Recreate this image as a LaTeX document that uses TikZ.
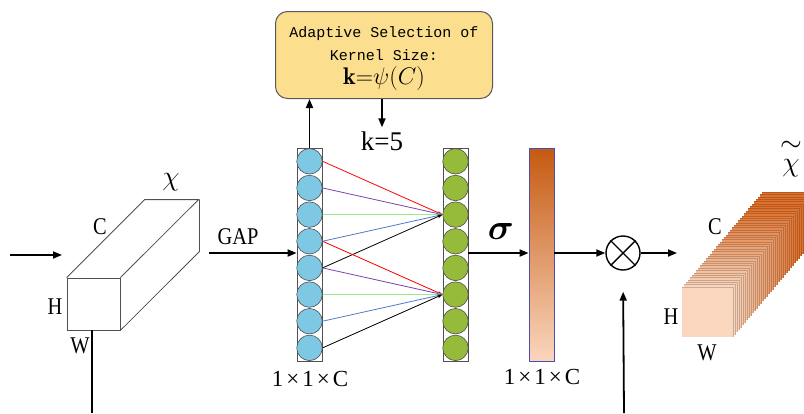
\RequirePackage{fix-cm}
\documentclass[tikz,border=0pt]{standalone}
\usepackage{amsmath}
\usepackage{fontspec}
\usepackage{tikz}
\usetikzlibrary{positioning,calc,arrows.meta}
\newfontfamily\narrowserif[FakeStretch=0.85]{Liberation Serif}
\newfontfamily\plainserif{Liberation Serif}
\newfontfamily\boxmono{Liberation Mono}
\definecolor{cellblue}{HTML}{7EC8E3}
\definecolor{cellgreen}{HTML}{96BA3A}
\definecolor{barorange}{HTML}{C55A11}
\definecolor{barpeach}{HTML}{FAD6BE}
\definecolor{sliceorange}{HTML}{E0702A}
\definecolor{selyellow}{HTML}{FBDF8E}
\definecolor{linepurple}{HTML}{7B3FA8}
\definecolor{linegreen}{HTML}{9BEA8C}
\definecolor{lineblue}{HTML}{4F7BC8}
\definecolor{edgegray}{HTML}{505050}

\begin{document}
\begin{tikzpicture}[x=1pt, y=-1pt,
  dimlbl/.style={font=\fontsize{24}{26}\selectfont\narrowserif, inner sep=0pt},
  sizelbl/.style={font=\fontsize{23}{25}\selectfont\plainserif, inner sep=0pt},
  bcell/.style={circle, draw=edgegray, line width=0.6pt, fill=cellblue, minimum size=25.5pt, inner sep=0pt},
  gcell/.style={circle, draw=edgegray, line width=0.6pt, fill=cellgreen, minimum size=25.5pt, inner sep=0pt},
  colbox/.style={draw=edgegray, line width=0.8pt, fill=white, minimum width=25pt, minimum height=213pt, inner sep=0pt},
  selbox/.style={draw=gray!70!black, line width=1pt, fill=selyellow, rounded corners=12pt, minimum width=217pt, minimum height=87pt, inner sep=0pt},
  seltext/.style={font=\boxmono\fontsize{15}{18}\selectfont, inner sep=0pt},
  cubeline/.style={draw=edgegray, line width=0.8pt},
  flowarrow/.style={-{Triangle[length=9pt,width=7pt]}, line width=1.8pt},
  linkarrow/.style={-{Stealth[length=5pt,width=3.5pt]}, line width=0.8pt},
]
\useasboundingbox (0,0) rectangle (804,413);

\node[selbox] (sel) at (384,55) {};
\node[seltext] (selline1) at (384,34) {Adaptive Selection of};
\node[seltext] (selline2) at (384,55) {Kernel Size:};
\node[font=\fontsize{24}{26}\selectfont, inner sep=0pt] (selformula) at (384,78) {$\mathbf{k}{=}\psi(C)$};

\node[colbox] (bcol) at (309.5,254.5) {};
\node[colbox] (gcol) at (455.5,254.5) {};
\foreach \i in {0,...,7} {
  \node[bcell] (b\i) at (309.5,161.3+26.65*\i) {};
  \node[gcell] (g\i) at (455.5,161.3+26.65*\i) {};
}

\node[font=\fontsize{27}{29}\selectfont\plainserif, inner sep=0pt] (kval) at (382,141) {k=5};
\draw[flowarrow] (bcol.north) -- (bcol.north |- sel.south);
\draw[flowarrow] (sel.south -| kval) -- ($(kval.north)+(0,-4)$);

\draw[linkarrow, red]        (b0.east) -- (g2.west);
\draw[linkarrow, linepurple] (b1.east) -- (g2.west);
\draw[linkarrow, linegreen]  (b2.east) -- (g2.west);
\draw[linkarrow, lineblue]   (b3.east) -- (g2.west);
\draw[linkarrow, black]      (b4.east) -- (g2.west);
\draw[linkarrow, red]        (b3.east) -- (g5.west);
\draw[linkarrow, linepurple] (b4.east) -- (g5.west);
\draw[linkarrow, linegreen]  (b5.east) -- (g5.west);
\draw[linkarrow, lineblue]   (b6.east) -- (g5.west);
\draw[linkarrow, black]      (b7.east) -- (g5.west);

\node[cubeline, minimum width=53pt, minimum height=52pt, inner sep=0pt] (xfront) at (93.5,304) {};
\draw[cubeline] (xfront.north west) -- ++(78,-78) -- ++(54,0) -- (xfront.north east);
\draw[cubeline] ($(xfront.north east)+(79,-78)$) -- ++(0,52) -- (xfront.south east);
\node[font=\fontsize{28}{30}\selectfont, inner sep=0pt] (xlbl) at (171,182) {$\chi$};
\node[dimlbl] (xc) at (100,227) {C};
\node[dimlbl] (xh) at (55,307) {H};
\node[dimlbl] (xw) at (80,346) {W};

\coordinate (inbeg) at (10,255);
\coordinate (inend) at (62,255);
\draw[flowarrow] (inbeg) -- (inend);
\coordinate (xdown) at (92,413);
\draw[line width=1.8pt] (xfront.south -| xdown) -- (xdown);

\coordinate (gapbeg) at (209,253);
\draw[flowarrow] (gapbeg) -- (bcol.west |- gapbeg);
\node[dimlbl] (gaplbl) at (238,237) {GAP};

\node[sizelbl] (bsize) at (310,379) {1\kern3pt×\kern3pt1\kern3pt×\kern3pt C};

\node[draw=gray!60!blue, line width=0.8pt, top color=barorange, bottom color=barpeach, minimum width=25pt, minimum height=213pt, inner sep=0pt] (bar) at (541.5,254.5) {};
\node[sizelbl] (barsize) at (542,377) {1\kern3pt×\kern3pt1\kern3pt×\kern3pt C};
\draw[flowarrow] (gcol.east |- gapbeg) -- (bar.west |- gapbeg);
\node[font=\fontsize{36}{38}\selectfont, inner sep=0pt] (sig) at (501,231) {$\boldsymbol{\sigma}$};

\node[circle, draw, line width=1.4pt, minimum size=34pt, inner sep=0pt] (mul) at (623,253) {};
\draw[line width=1.4pt] (mul.45) -- (mul.225) (mul.135) -- (mul.315);
\draw[flowarrow] (bar.east |- mul) -- (mul.west);
\coordinate (outend) at (677,253);
\draw[flowarrow] (mul.east) -- (outend);
\coordinate (scalebeg) at (624,413);
\draw[flowarrow, shorten >=21pt] (scalebeg) -- (mul.south);

\foreach \i in {40,...,0} {
  \pgfmathtruncatemacro\mixval{min(100,\i*3)}
  \colorlet{slicecol}{sliceorange!\mixval!barpeach}
  \fill[slicecol] (682+2*\i,287-2.375*\i) rectangle ++(51,50);
  \draw[slicecol!80!black, line width=0.3pt] (682+2*\i,287-2.375*\i) -- ++(51,0) -- ++(0,50);
}
\node[dimlbl] (yc) at (715,227) {C};
\node[dimlbl] (yh) at (671,317) {H};
\node[dimlbl] (yw) at (707,353) {W};
\node[font=\fontsize{28}{30}\selectfont, inner sep=0pt] (ylbl) at (791,158) {$\overset{\raisebox{3pt}{$\sim$}}{\chi}$};
\end{tikzpicture}
\end{document}
